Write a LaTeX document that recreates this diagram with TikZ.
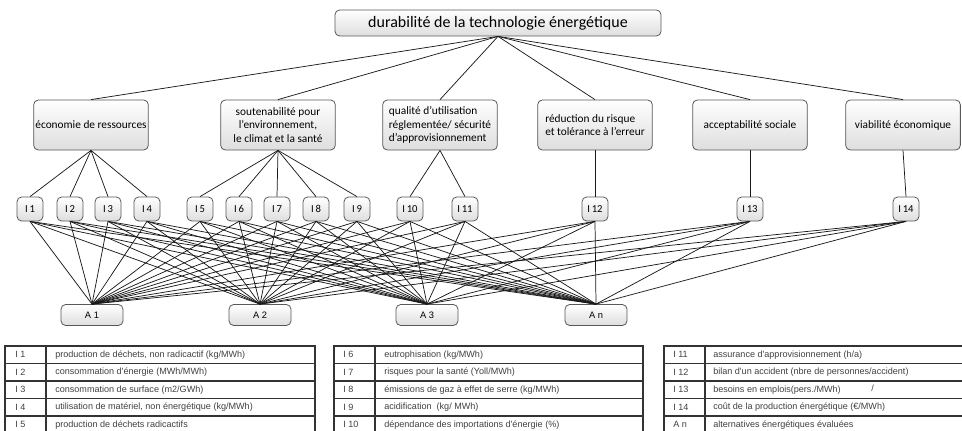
\documentclass[tikz,border=0pt]{standalone}
\usepackage{fontspec}
\setmainfont{Carlito}
\newfontfamily\tabfont{Liberation Sans}

\tikzset{
  boite/.style={draw=black!65, line width=0.6pt, rounded corners=3.5pt, top color=white, bottom color=black!13, inner sep=1pt, font=\fontsize{8.5}{10}\selectfont},
  crit/.style={boite, minimum width=86pt, minimum height=37.5pt},
  indic/.style={boite, minimum width=19.5pt, minimum height=18pt, font=\fontsize{8}{9}\selectfont},
  alt/.style={boite, minimum width=46.5pt, minimum height=15.75pt, font=\tabfont\fontsize{7}{8}\selectfont},
  lien/.style={draw=black!90, line width=0.55pt},
  tab/.style={draw=black!80, line width=0.8pt},
  cell/.style={anchor=west, inner sep=0pt, text=black!75, font=\tabfont\fontsize{6.8}{7.5}\selectfont},
}

\begin{document}
\begin{tikzpicture}[x=0.75pt,y=-0.75pt]
	\useasboundingbox (0,0) rectangle (962,431);
	\clip (0,0) rectangle (962,431);
	% objectif
	\node[boite, minimum width=244.5pt, minimum height=19.5pt, font=\fontsize{12}{14}\selectfont] (dur) at (498,23) {durabilité de la technologie énergétique};
	% criteres
	\node[crit] (c1) at (91,125) {économie de ressources};
	\node[crit, align=center] (c2) at (278,125) {soutenabilité pour\\l'environnement,\\le climat et la santé};
	\node[crit, align=left] (c3) at (440,125) {qualité d'utilisation\\réglementée/ sécurité\\d'approvisionnement};
	\node[crit, align=left] (c4) at (595,125) {réduction du risque\\et tolérance à l'erreur};
	\node[crit] (c5) at (750,125) {acceptabilité sociale};
	\node[crit] (c6) at (903,125) {viabilité économique};
	% indicateurs
	\foreach \n/\x in {1/30,2/70,3/108,4/147,5/200,6/239,7/277,8/316,9/357,10/410,11/465,12/595,13/750,14/906}
		\node[indic] (i\n) at (\x,209) {I\,\n};
	% alternatives
	\foreach \n/\x in {1/92,2/260,3/427,n/596}
		\node[alt] (a\n) at (\x,315) {A \n};
	% liens
	\foreach \c in {1,...,6} \draw[lien] (dur.south) -- (c\c.north);
	\foreach \i in {1,...,4} \draw[lien] (c1.south) -- (i\i.north);
	\foreach \i in {5,...,9} \draw[lien] (c2.south) -- (i\i.north);
	\foreach \i in {10,11} \draw[lien] (c3.south) -- (i\i.north);
	\draw[lien] (c4.south) -- (i12.north);
	\draw[lien] (c5.south) -- (i13.north);
	\draw[lien] (c6.south) -- (i14.north);
	\foreach \i in {1,...,14}
		\foreach \a in {1,2,3,n}
			\draw[lien] (i\i.south) -- (a\a.north);
	% legende
	\foreach \l/\m/\r in {5/46/315,334/375/643,664/705/974} {
		\draw[tab] (\l,346) rectangle (\r,433.5);
		\draw[tab] (\m,346) -- (\m,433.5);
		\foreach \k in {1,...,4} \draw[tab] (\l,346+\k*17.5) -- (\r,346+\k*17.5);
	}
	\foreach \lab/\txt [count=\k] in {I 1/{production de déchets, non radicactif (kg/MWh)},
		I 2/{consommation d'énergie (MWh/MWh)},
		I 3/{consommation de surface (m2/GWh)},
		I 4/{utilisation de matériel, non énergétique (kg/MWh)},
		I 5/{production de déchets radicactifs}} {
		\node[cell] (g\k) at (15,346+\k*17.5-8.75) {\lab};
		\node[cell] (d\k) at (55,346+\k*17.5-8.75) {\txt};
	}
	\foreach \lab/\txt [count=\k] in {I 6/{eutrophisation (kg/MWh)},
		I 7/{risques pour la santé (Yoll/MWh)},
		I 8/{émissions de gaz à effet de serre (kg/MWh)},
		I 9/{acidification\ \ (kg/ MWh)},
		I 10/{dépendance des importations d'énergie (\%)}} {
		\node[cell] (g2\k) at (343,346+\k*17.5-8.75) {\lab};
		\node[cell] (d2\k) at (384,346+\k*17.5-8.75) {\txt};
	}
	\foreach \lab/\txt [count=\k] in {I 11/{assurance d'approvisionnement (h/a)},
		I 12/{bilan d'un accident (nbre de personnes/accident)},
		I 13/{besoins en emplois(pers./MWh)},
		I 14/{coût de la production énergétique (€/MWh)},
		A n/{alternatives énergétiques évaluées}} {
		\node[cell] (g3\k) at (673,346+\k*17.5-8.75) {\lab};
		\node[cell] (d3\k) at (713,346+\k*17.5-8.75) {\txt};
	}
	\node[cell] (trait) at (871,388) {/};
\end{tikzpicture}
\end{document}
